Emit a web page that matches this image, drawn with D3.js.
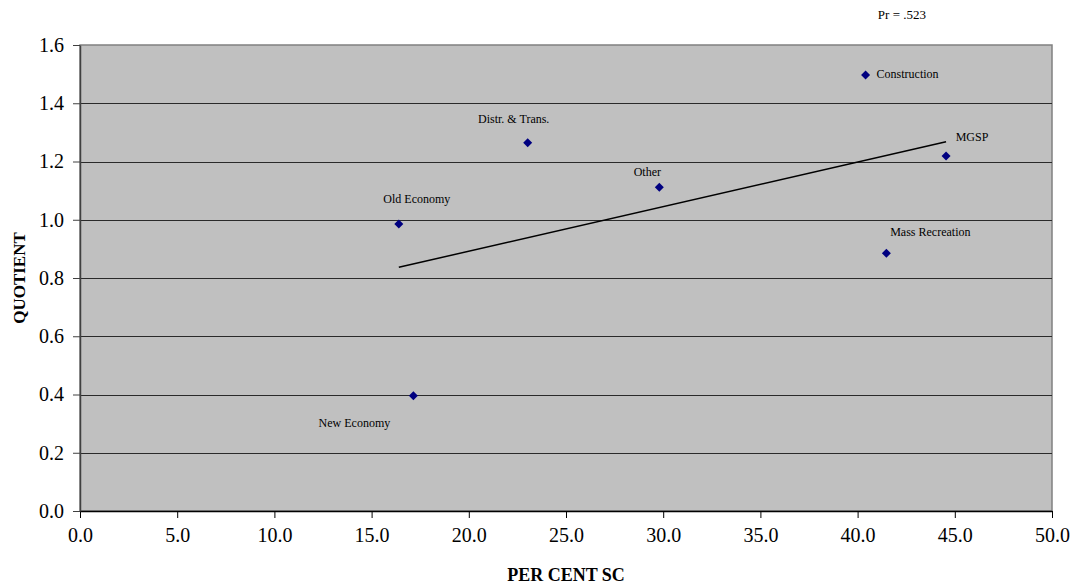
<!DOCTYPE html>
<html>
<head>
<meta charset="utf-8">
<script src="https://cdn.jsdelivr.net/npm/d3@7"></script>
<style>
  html, body { margin: 0; padding: 0; background: #fff; }
  svg { display: block; font-family: "Liberation Serif", "Times New Roman", serif; }
</style>
</head>
<body>
<svg id="chart" width="1080" height="586"></svg>
<script>
// ---- data ----
const categories = ["Old Economy", "New Economy", "Distr. & Trans.", "Other", "Construction", "Mass Recreation", "MGSP"];
const perCentSC  = [16.4, 17.15, 23.03, 29.8, 40.41, 41.48, 44.55];
const quotient   = [0.985, 0.396, 1.264, 1.112, 1.497, 0.885, 1.219];
const xTicks = [0, 5, 10, 15, 20, 25, 30, 35, 40, 45, 50];
const yTicks = [0, 0.2, 0.4, 0.6, 0.8, 1.0, 1.2, 1.4, 1.6];
const annotation = "Pr = .523";

// label placement (layout only)
const labelOffsets = {
  "Old Economy":     { dx: 18,  dy: -21, anchor: "middle" },
  "New Economy":     { dx: -59, dy: 31,  anchor: "middle" },
  "Distr. & Trans.": { dx: -14, dy: -20, anchor: "middle" },
  "Other":           { dx: -12, dy: -11, anchor: "middle" },
  "Construction":    { dx: 11,  dy: 3,   anchor: "start" },
  "Mass Recreation": { dx: 44,  dy: -17, anchor: "middle" },
  "MGSP":            { dx: 26,  dy: -15, anchor: "middle" }
};

const svg = d3.select("#chart");
const pLeft = 80, pRight = 1052, pTop = 45, pBottom = 511;

const x = d3.scaleLinear().domain([0, 50]).range([pLeft, pRight]);
const y = d3.scaleLinear().domain([0, 1.6]).range([pBottom, pTop]);

const points = categories.map((c, i) => ({ name: c, x: perCentSC[i], y: quotient[i] }));

// plot background
svg.append("rect")
  .attr("x", pLeft).attr("y", pTop)
  .attr("width", pRight - pLeft).attr("height", pBottom - pTop)
  .attr("fill", "#C0C0C0")
  .attr("stroke", "#808080").attr("stroke-width", 1.5);

// gridlines
svg.append("g").selectAll("line")
  .data(yTicks.filter(t => t > 0 && t < 1.6))
  .join("line")
  .attr("x1", pLeft).attr("x2", pRight)
  .attr("y1", d => Math.round(y(d)) + 0.5).attr("y2", d => Math.round(y(d)) + 0.5)
  .attr("stroke", "#2a2a2a").attr("stroke-width", 1.2);

// axes
const xAxis = d3.axisBottom(x).tickValues(xTicks).tickFormat(d3.format(".1f")).tickSize(7).tickSizeOuter(0);
const yAxis = d3.axisLeft(y).tickValues(yTicks).tickFormat(d3.format(".1f")).tickSize(7).tickSizeOuter(0);

const gx = svg.append("g").attr("transform", `translate(0,${pBottom})`).call(xAxis);
gx.select(".domain").attr("stroke", "#000").attr("stroke-width", 1.5);
gx.selectAll(".tick line").attr("stroke", "#000");
gx.selectAll(".tick text").attr("font-size", 20).attr("font-family", "Liberation Serif").attr("fill", "#000").attr("dy", "1.05em");

const gy = svg.append("g").attr("transform", `translate(${pLeft},0)`).call(yAxis);
gy.select(".domain").attr("stroke", "#404040").attr("stroke-width", 1.5);
gy.selectAll(".tick line").attr("stroke", "#404040");
gy.selectAll(".tick text").attr("font-size", 20).attr("font-family", "Liberation Serif").attr("fill", "#000").attr("x", -16);

// trend line (least squares)
const mx = d3.mean(perCentSC), my = d3.mean(quotient);
const slope = d3.sum(perCentSC, (v, i) => (v - mx) * (quotient[i] - my)) / d3.sum(perCentSC, v => (v - mx) * (v - mx));
const icpt = my - slope * mx;
const xExt = d3.extent(perCentSC);
svg.append("line")
  .attr("x1", x(xExt[0])).attr("y1", y(icpt + slope * xExt[0]))
  .attr("x2", x(xExt[1])).attr("y2", y(icpt + slope * xExt[1]))
  .attr("stroke", "#000").attr("stroke-width", 1.5);

// markers
svg.append("g").selectAll("path")
  .data(points)
  .join("path")
  .attr("transform", d => `translate(${x(d.x)},${y(d.y)})`)
  .attr("d", "M0,-4.5L4.5,0L0,4.5L-4.5,0Z")
  .attr("fill", "#000080");

// point labels
svg.append("g").selectAll("text")
  .data(points)
  .join("text")
  .attr("x", d => x(d.x) + labelOffsets[d.name].dx)
  .attr("y", d => y(d.y) + labelOffsets[d.name].dy)
  .attr("text-anchor", d => labelOffsets[d.name].anchor)
  .attr("font-size", 12)
  .attr("fill", "#000")
  .text(d => d.name);

// axis titles
svg.append("text")
  .attr("x", (pLeft + pRight) / 2).attr("y", 581)
  .attr("text-anchor", "middle")
  .attr("font-weight", "bold").attr("font-size", 18)
  .text("PER CENT SC");

svg.append("text")
  .attr("transform", `translate(25,${(pTop + pBottom) / 2}) rotate(-90)`)
  .attr("text-anchor", "middle")
  .attr("font-weight", "bold").attr("font-size", 17)
  .text("QUOTIENT");

// annotation
svg.append("text")
  .attr("x", 926).attr("y", 19)
  .attr("text-anchor", "end")
  .attr("font-size", 13)
  .text(annotation);
</script>
</body>
</html>
